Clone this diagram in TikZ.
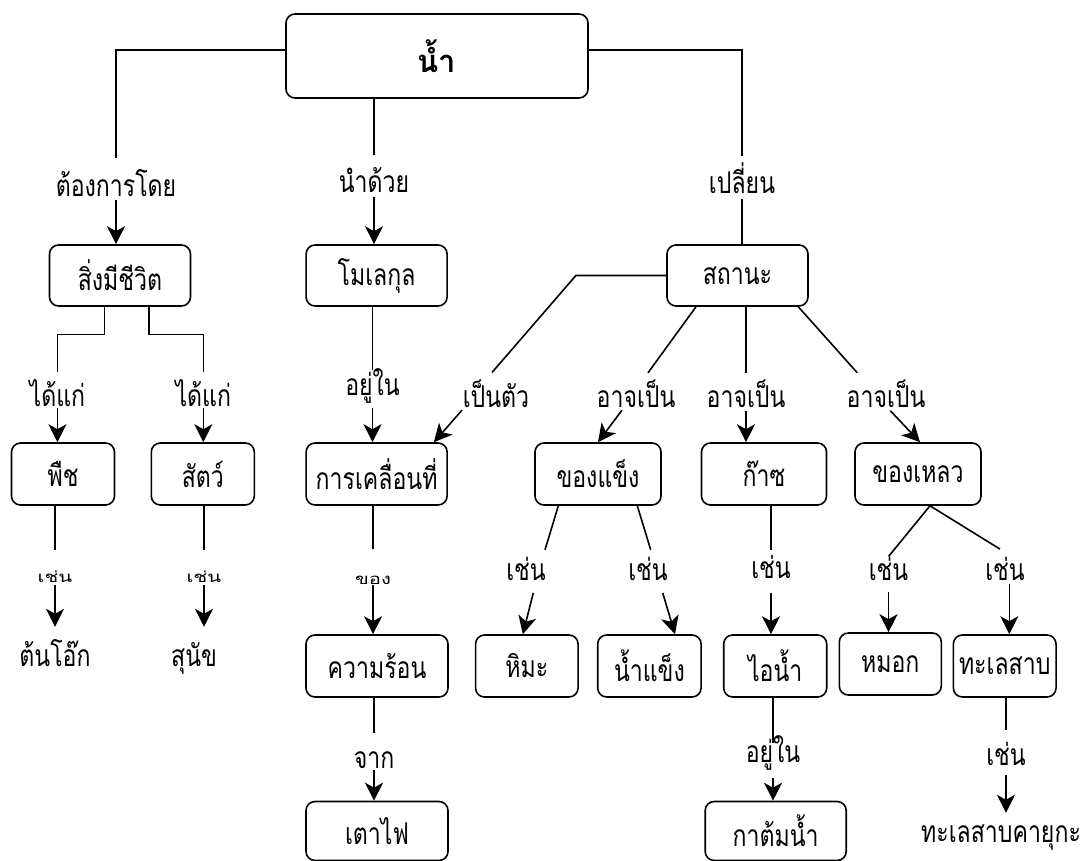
\documentclass[tikz,border=0pt]{standalone}
\usepackage{fontspec}
\usetikzlibrary{arrows.meta}
\newfontfamily\thai[Script=Thai,FakeStretch=0.77]{Loma}
\newfontfamily\thaibold[Script=Thai]{Loma}
\newfontfamily\thaisq[Script=Thai,FakeStretch=1.35]{Loma}
\tikzset{
  box/.style={draw, line width=1.6pt, rounded corners=9pt, inner sep=0pt,
    font=\thai\fontsize{30}{34}\selectfont},
  lbl/.style={inner sep=0pt, anchor=base, font=\thai\fontsize{30}{34}\selectfont},
  slbl/.style={inner sep=0pt, anchor=base, font=\thaisq\fontsize{15}{18}\selectfont},
  leaf/.style={inner sep=0pt, anchor=base, font=\thai\fontsize{30}{34}\selectfont},
  conn/.style={line width=1.6pt},
  arr/.style={line width=1.6pt, -{Stealth[length=18pt, width=18pt, inset=5pt]}}
}
\begin{document}
\begin{tikzpicture}[x=1pt, y=-1pt]
\useasboundingbox (0,0) rectangle (1089,861);
% boxes
\node[box, minimum width=302pt, minimum height=84pt, font=\thaibold\bfseries\fontsize{31}{35}\selectfont] (root) at (437,56) {น้ำ};
\node[box, minimum width=141pt, minimum height=61pt] (life) at (120,275.5) {สิ่งมีชีวิต};
\node[box, minimum width=141pt, minimum height=61pt] (mol) at (376.6,275.5) {โมเลกุล};
\node[box, minimum width=141pt, minimum height=61pt] (state) at (737.5,275.5) {สถานะ};
\node[box, minimum width=103pt, minimum height=62pt] (plant) at (63,474) {พืช};
\node[box, minimum width=103pt, minimum height=62pt] (animal) at (202.8,474) {สัตว์};
\node[box, minimum width=141pt, minimum height=62pt] (motion) at (376.6,474) {การเคลื่อนที่};
\node[box, minimum width=126pt, minimum height=62pt] (solid) at (598,474) {ของแข็ง};
\node[box, minimum width=125pt, minimum height=62pt] (gas) at (764,474) {ก๊าซ};
\node[box, minimum width=126pt, minimum height=62pt] (liquid) at (918,474) {ของเหลว};
\node[box, minimum width=142pt, minimum height=62pt] (heat) at (377,666) {ความร้อน};
\node[box, minimum width=142pt, minimum height=59pt] (stove) at (377,831) {เตาไฟ};
\node[box, minimum width=102.5pt, minimum height=62pt] (snow) at (526.8,666) {หิมะ};
\node[box, minimum width=103.4pt, minimum height=62pt] (ice) at (649.4,666) {น้ำแข็ง};
\node[box, minimum width=103pt, minimum height=62pt] (steam) at (775.2,666) {ไอน้ำ};
\node[box, minimum width=102pt, minimum height=62pt] (fog) at (890.3,664) {หมอก};
\node[box, minimum width=102.7pt, minimum height=62pt] (lake) at (1004.7,666) {ทะเลสาบ};
\node[box, minimum width=141pt, minimum height=59pt] (kettle) at (775.7,831) {กาต้มน้ำ};
% leaves
\node[leaf, text height=39pt] (oak) at (55,666) {ต้นโอ๊ก};
\node[leaf, text height=39pt] (dog) at (194,666) {สุนัข};
\node[leaf, text height=29pt] (kayuga) at (1001,842) {ทะเลสาบคายุกะ};
% labels
\node[lbl, text height=38pt, text depth=3.5pt] (l1) at (116,196.5) {ต้องการโดย};
\node[lbl, text height=38pt, text depth=4pt] (l2) at (374,193) {นำด้วย};
\node[lbl, text height=37pt, text depth=5pt] (l3) at (742,193.5) {เปลี่ยน};
\node[lbl, text height=33.5pt, text depth=2pt] (l4) at (57.4,406) {ได้แก่};
\node[lbl, text height=33.5pt, text depth=2pt] (l5) at (203.3,406) {ได้แก่};
\node[lbl, text height=25pt, text depth=13pt] (l6) at (372.5,395) {อยู่ใน};
\node[lbl, text height=34.3pt, text depth=3pt] (l7) at (496,407) {เป็นตัว};
\node[lbl, text height=34pt, text depth=3pt] (l8) at (636,407) {อาจเป็น};
\node[lbl, text height=34pt, text depth=3.5pt] (l9) at (746,407) {อาจเป็น};
\node[lbl, text height=34pt, text depth=3.5pt] (l10) at (886,407) {อาจเป็น};
\node[slbl, text height=32pt, text depth=3pt] (l11) at (55,582) {เช่น};
\node[slbl, text height=32pt, text depth=3pt] (l12) at (204,582) {เช่น};
\node[slbl, text height=35pt, text depth=1pt] (l13) at (373,584) {ของ};
\node[lbl, text height=35.3pt, text depth=2pt] (l14) at (374,768) {จาก};
\node[lbl, text height=30pt, text depth=12.7pt] (l15) at (526,580) {เช่น};
\node[lbl, text height=30pt, text depth=12.7pt] (l16) at (648,580) {เช่น};
\node[lbl, text height=28pt, text depth=15pt] (l17) at (771,578) {เช่น};
\node[lbl, text height=23.3pt, text depth=11.7pt] (l18) at (888.5,580) {เช่น};
\node[lbl, text height=30.7pt, text depth=3.3pt] (l19) at (1005,580) {เช่น};
\node[lbl, text height=18.7pt, text depth=16pt] (l20) at (773,762) {อยู่ใน};
\node[lbl, text height=35pt, text depth=10pt] (l21) at (1006,765) {เช่น};
% connectors: root
\draw[conn] ([yshift=6pt]root.west) -| (l1.north);
\draw[arr] (l1.south) -- (l1.south |- life.north);
\draw[conn] (l2.north |- root.south) -- (l2.north);
\draw[arr] (l2.south) -- (l2.south |- mol.north);
\draw[conn] ([yshift=6pt]root.east) -| (l3.north);
\draw[conn] (l3.south) -- (l3.south |- state.north);
% life
\draw[conn] ([xshift=-15.7pt]life.south) -- ++(0,27.5) -| (l4.north);
\draw[arr] (l4.south) -- (l4.south |- plant.north);
\draw[conn] ([xshift=28.8pt]life.south) -- ++(0,27.5) -| (l5.north);
\draw[arr] (l5.south) -- (l5.south |- animal.north);
\draw[conn] (l11.north |- plant.south) -- (l11.north);
\draw[arr] (l11.south) -- (l11.south |- oak.north);
\draw[conn] (l12.north |- animal.south) -- (l12.north);
\draw[arr] (l12.south) -- (l12.south |- dog.north);
% molecule
\draw[conn] (l6.north |- mol.south) -- (l6.north);
\draw[arr] (l6.south) -- (l6.south |- motion.north);
\draw[conn] (l13.north |- motion.south) -- (l13.north);
\draw[arr] (l13.south) -- (l13.south |- heat.north);
\draw[conn] (l14.north |- heat.south) -- (l14.north);
\draw[arr] (l14.south) -- (l14.south |- stove.north);
% state
\draw[conn] (state.west) -- ++(-90.3,0) -- ([xshift=-4pt]l7.north);
\draw[arr] ([xshift=-34pt]l7.south) -- ([xshift=-14pt]motion.north east);
\draw[conn] ([xshift=-41.5pt]state.south) -- ([xshift=12pt]l8.north);
\draw[arr] ([xshift=-14pt]l8.south) -- (solid.north);
\draw[conn] (l9.north |- state.south) -- (l9.north);
\draw[arr] (l9.south) -- (l9.south |- gas.north);
\draw[conn] ([xshift=60.8pt]state.south) -- ([xshift=-28.7pt]l10.north);
\draw[arr] ([xshift=4.3pt]l10.south) -- ([xshift=2pt]liquid.north);
% solid
\draw[conn] ([xshift=-39.7pt]solid.south) -- ([xshift=19pt]l15.north);
\draw[arr] ([xshift=7.3pt]l15.south) -- ([xshift=-4pt]snow.north);
\draw[conn] ([xshift=39.3pt]solid.south) -- ([xshift=2.7pt]l16.north);
\draw[arr] ([xshift=14.7pt]l16.south) -- ([xshift=25.6pt]ice.north);
% gas
\draw[conn] (l17.north |- gas.south) -- (l17.north);
\draw[arr] (l17.south) -- (l17.south |- steam.north);
\draw[conn] (l20.north |- steam.south) -- (l20.north);
\draw[arr] (l20.south) -- (l20.south |- kettle.north);
% liquid
\draw[conn] ([xshift=12pt]liquid.south) -- (l18.north);
\draw[arr] (l18.south) -- (l18.south |- fog.north);
\draw[conn] ([xshift=12pt]liquid.south) -- ([xshift=-5pt]l19.north);
\draw[arr] ([xshift=4.3pt]l19.south) -- ([xshift=4.3pt]l19.south |- lake.north);
\draw[conn] (l21.north |- lake.south) -- (l21.north);
\draw[arr] (l21.south) -- (l21.south |- kayuga.north);
\end{tikzpicture}
\end{document}
